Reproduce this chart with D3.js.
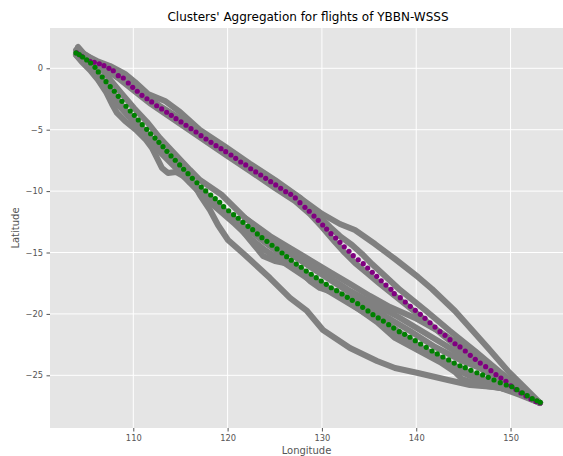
<!DOCTYPE html>
<html lang="en">

<head>
    <meta charset="UTF-8">
    <title>Clusters' Aggregation</title>
    <script src="https://cdn.jsdelivr.net/npm/d3@7/dist/d3.min.js"></script>
    <style>
        * {
            margin: 0;
        }

        body {
            background: #fff;
        }

        text {
            font-family: "DejaVu Sans", sans-serif;
        }
    </style>
</head>

<body>
    <svg id="chart" width="563" height="456"></svg>
    <script>
        // tick labels
        var xTicks = [110, 120, 130, 140, 150];
        var yTicks = [0, -5, -10, -15, -20, -25];

        // flight tracks (lon / lat)
        var trackALon = [103.93, 105.41, 106.89, 108.38, 109.97, 111.88, 114.53, 117.18, 119.83, 122.37, 125.02, 127.14, 128.73, 130.01, 131.38, 132.44, 133.50, 134.78, 136.16, 137.75, 140.40, 143.05, 145.70, 148.35, 150.47, 153.12];
        var trackALat = [1.25, 0.43, 0.02, -0.79, -1.77, -2.91, -4.29, -5.68, -7.06, -8.36, -9.75, -10.81, -11.86, -12.92, -14.14, -15.04, -15.85, -16.67, -17.56, -18.54, -20.17, -21.88, -23.51, -25.06, -26.11, -27.25];

        var trackBLon = [104.14, 104.88, 106.15, 107.53, 109.12, 110.18, 111.56, 113.36, 114.95, 117.07, 119.72, 122.37, 125.02, 127.67, 129.58, 130.85, 131.91, 133.19, 134.25, 135.31, 136.69, 138.28, 140.93, 143.58, 146.23, 148.88, 151.00, 153.12];
        var trackBLat = [1.73, 1.08, 0.59, 0.19, -0.46, -1.12, -2.09, -2.66, -3.56, -5.02, -6.37, -7.77, -9.10, -10.54, -11.95, -12.92, -13.66, -14.39, -15.12, -15.94, -16.91, -18.05, -19.68, -21.39, -23.02, -24.73, -26.03, -27.25];

        var trackCLon = [104.03, 105.41, 107.53, 109.12, 110.71, 112.83, 116.01, 119.19, 122.37, 125.55, 127.67, 130.01, 131.91, 133.50, 135.63, 137.75, 140.18, 141.67, 144.11, 145.91, 147.61, 149.73, 151.53, 153.12];
        var trackCLat = [1.49, 0.68, 0.02, -0.87, -1.93, -3.07, -4.62, -6.25, -7.87, -9.50, -10.56, -11.86, -12.68, -13.17, -14.31, -15.53, -16.99, -17.97, -19.76, -21.31, -22.78, -24.65, -26.03, -27.25];

        var trackDLon = [103.93, 104.88, 105.94, 106.79, 107.53, 108.38, 109.33, 110.50, 111.77, 113.15, 114.42, 115.80, 117.07, 118.66, 120.25, 122.37, 124.49, 126.61, 128.73, 130.85, 132.97, 135.09, 137.75, 140.40, 143.05, 145.70, 148.35, 151.00, 153.12];
        var trackDLat = [1.16, 0.68, -0.14, -1.03, -1.69, -2.58, -3.56, -4.45, -5.59, -6.65, -7.79, -8.85, -9.83, -10.89, -11.95, -13.25, -14.47, -15.77, -16.91, -17.97, -18.79, -19.84, -21.23, -22.69, -23.83, -24.81, -25.71, -26.52, -27.25];

        var trackELon = [103.93, 104.56, 105.41, 106.26, 107.11, 107.74, 108.27, 109.12, 110.29, 111.35, 111.98, 112.51, 113.04, 113.68, 114.53, 115.27, 116.54, 118.13, 119.72, 121.31, 122.90, 123.75, 125.02, 126.08, 127.67, 128.73, 129.79, 131.17, 133.29, 135.84, 137.75, 140.50, 142.52, 144.11, 144.85, 146.76, 148.88, 151.00, 153.12];
        var trackELat = [1.08, 0.51, -0.14, -0.95, -1.93, -2.91, -3.64, -4.29, -5.02, -5.84, -6.49, -7.30, -8.12, -8.53, -8.44, -8.77, -9.58, -10.56, -11.78, -13.00, -14.47, -15.28, -15.69, -15.85, -16.51, -17.32, -17.89, -18.22, -19.27, -20.66, -21.96, -23.10, -23.92, -24.73, -25.30, -25.79, -26.03, -26.44, -27.25];

        var trackFLon = [103.93, 104.99, 106.05, 106.89, 107.74, 108.80, 110.07, 111.45, 112.83, 114.42, 116.01, 117.07, 119.40, 121.84, 124.28, 126.61, 128.95, 131.38, 134.03, 136.69, 139.34, 141.99, 144.64, 147.82, 150.47, 153.12];
        var trackFLat = [1.49, 1.08, 0.51, -0.30, -1.12, -2.09, -3.23, -4.37, -5.68, -6.98, -8.28, -9.10, -10.32, -12.19, -13.66, -15.04, -16.26, -17.48, -18.79, -20.17, -21.39, -22.69, -23.75, -24.73, -25.87, -27.25];

        var trackHLon = [121.84, 124.49, 126.61, 128.73, 130.85, 132.97, 135.09, 137.22, 139.87, 142.52, 145.17, 147.82, 150.47, 153.12];
        var trackHLat = [-12.19, -13.66, -14.63, -15.61, -16.59, -17.56, -18.54, -19.44, -20.33, -21.47, -22.78, -24.24, -25.79, -27.25];

        var trackILon = [103.93, 105.20, 106.26, 107.11, 107.95, 108.80, 109.86, 111.24, 112.83, 114.42, 116.01, 117.60, 119.19, 120.78, 122.37, 123.96, 125.55, 127.14, 128.73, 130.85, 132.97, 135.09, 137.75, 140.40, 143.05, 145.70, 148.35, 151.00, 153.12];
        var trackILat = [1.08, 0.19, -0.87, -1.77, -2.58, -3.31, -4.21, -5.43, -6.82, -8.04, -9.34, -10.56, -11.62, -12.68, -13.82, -14.80, -15.61, -16.42, -17.24, -18.22, -19.19, -20.17, -21.55, -22.94, -24.08, -25.06, -25.87, -26.60, -27.25];

        var trackJLon = [122.37, 124.49, 126.61, 128.73, 130.85, 132.97, 135.09, 137.75, 140.40, 143.05, 145.70, 148.35, 151.00, 153.12];
        var trackJLat = [-12.84, -13.98, -15.12, -16.10, -17.08, -18.13, -19.03, -20.09, -21.31, -22.53, -23.83, -25.22, -26.36, -27.25];

        var trackGLon = [114.42, 116.01, 117.07, 118.13, 118.98, 120.04, 121.84, 124.49, 126.61, 128.42, 130.11, 132.97, 135.84, 137.75, 140.18, 143.36, 145.70, 148.35, 151.00, 153.12];
        var trackGLat = [-7.30, -8.85, -10.32, -11.54, -12.76, -13.98, -15.20, -17.08, -18.70, -19.76, -21.31, -22.78, -23.83, -24.40, -24.81, -25.38, -25.79, -25.95, -26.28, -27.25];

        // cluster 1 centre (purple)
        var purpleLon = [104.00, 104.53, 105.41, 105.87, 106.40, 106.89, 107.42, 107.88, 108.41, 108.94, 109.47, 109.94, 110.42, 110.92, 111.45, 111.95, 112.48, 113.01, 113.54, 114.03, 114.53, 115.06, 115.59, 116.12, 116.65, 117.18, 117.71, 118.24, 118.77, 119.30,
            119.80, 120.36, 120.86, 121.39, 121.92, 122.45, 122.98, 123.51, 124.04, 124.57, 125.10, 125.63, 126.16, 126.69, 127.18, 127.67, 128.20, 128.66, 129.16, 129.61, 130.08,
            130.50, 130.96, 131.46, 131.91, 132.37, 132.87, 133.32, 133.85, 134.38, 134.85, 135.34, 135.81, 136.29, 136.79, 137.32, 137.67,
            138.31, 138.84, 139.37, 139.90, 140.43, 140.93, 141.46, 141.99, 142.52, 143.05, 143.58, 144.11, 144.64, 145.20, 145.73, 146.26, 146.79, 147.36, 147.92, 148.45, 148.98, 149.51, 150.04,
            150.57, 151.10, 151.63, 152.16, 152.69, 153.12];
        var purpleLat = [1.25, 0.98, 0.57, 0.49, 0.37, 0.21, 0.00, -0.20, -0.60, -0.79, -1.20, -1.55, -1.87, -2.20, -2.48, -2.74, -3.05, -3.31, -3.58, -3.83, -4.10, -4.37, -4.64, -4.92, -5.19, -5.49, -5.76, -6.03, -6.30, -6.55,
            -6.79, -7.06, -7.33, -7.63, -7.87, -8.18, -8.44, -8.69, -8.96, -9.23, -9.50, -9.77, -10.05, -10.26, -10.56, -10.94, -11.32, -11.64, -12.03, -12.38, -12.76,
            -13.09, -13.47, -13.82, -14.17, -14.53, -14.90, -15.26, -15.59, -15.91, -16.26, -16.61, -16.94, -17.30, -17.65, -18.00, -18.35,
            -18.68, -19.03, -19.38, -19.71, -20.03, -20.36, -20.72, -21.07, -21.45, -21.74, -22.10, -22.43, -22.69, -23.02, -23.37, -23.70, -24.00, -24.30, -24.62, -24.95, -25.22, -25.49, -25.85,
            -26.16, -26.44, -26.68, -26.93, -27.13, -27.25];

        // cluster 2 centre (green)
        var greenLon = [103.93, 104.27, 104.64, 105.06, 105.48, 105.94, 106.29, 106.71, 107.11, 107.56, 107.99, 108.41, 108.80, 109.23, 109.68, 110.11, 110.53, 110.95, 111.42, 111.84, 112.30, 112.72, 113.15, 113.57, 114.00, 114.45, 114.92, 115.34, 115.80, 116.26, 116.75, 117.21, 117.68, 118.21, 118.69, 119.16, 119.58,
            120.11, 120.64, 121.13, 121.63, 122.16,
            122.66, 123.15, 123.64, 124.17, 124.71, 125.24, 125.77, 126.26, 126.75, 127.28, 127.81, 128.34, 128.87, 129.40, 129.93, 130.46, 130.99, 131.56, 132.13, 132.69, 133.22, 133.79, 134.32, 134.88, 135.41, 135.97, 136.51, 137.08, 137.61,
            138.20, 138.77, 139.34, 139.90, 140.47, 141.06, 141.67, 142.23, 142.83, 143.44, 144.03, 144.64, 145.20, 145.80, 146.44, 147.04, 147.64, 148.24, 148.91, 149.55, 150.15, 150.68, 151.24, 151.77, 152.30, 152.80, 153.15];
        var greenLat = [1.25, 1.11, 0.92, 0.68, 0.43, 0.08, -0.30, -0.71, -1.09, -1.50, -1.87, -2.28, -2.69, -3.09, -3.48, -3.83, -4.21, -4.59, -4.97, -5.33, -5.68, -6.03, -6.38, -6.76, -7.14, -7.49, -7.87, -8.22, -8.58, -8.96, -9.32, -9.67, -9.99, -10.32, -10.62, -10.91, -11.27,
            -11.60, -11.92, -12.21, -12.54, -12.87,
            -13.14, -13.49, -13.79, -14.09, -14.41, -14.71, -15.04, -15.34, -15.63, -15.94, -16.20, -16.51, -16.77, -17.05, -17.32, -17.59, -17.87, -18.11, -18.38, -18.65, -18.89, -19.17, -19.46, -19.76, -20.06, -20.33, -20.58, -20.88, -21.15,
            -21.45, -21.66, -21.90, -22.18, -22.45, -22.72, -23.02, -23.26, -23.51, -23.75, -24.00, -24.22, -24.38, -24.59, -24.79, -24.97, -25.16, -25.38, -25.60, -25.79, -25.93, -26.17, -26.42, -26.66, -26.90, -27.07, -27.20];

        var tracks = [
            [trackALon, trackALat],
            [trackBLon, trackBLat],
            [trackCLon, trackCLat],
            [trackDLon, trackDLat],
            [trackELon, trackELat],
            [trackFLon, trackFLat],
            [trackHLon, trackHLat],
            [trackILon, trackILat],
            [trackJLon, trackJLat],
            [trackGLon, trackGLat]
        ];

        var margin = { left: 50, right: 563, top: 28, bottom: 428 };
        var svg = d3.select("#chart");

        var x = d3.scaleLinear().domain([101.17, 155.56]).range([margin.left, margin.right]);
        var y = d3.scaleLinear().domain([-29.29, 3.28]).range([margin.bottom, margin.top]);

        // background
        svg.append("rect")
            .attr("x", margin.left)
            .attr("y", margin.top)
            .attr("width", margin.right - margin.left)
            .attr("height", margin.bottom - margin.top)
            .attr("fill", "#e5e5e5");

        // grid
        svg.append("g").selectAll("line").data(xTicks).enter().append("line")
            .attr("x1", d => x(d)).attr("x2", d => x(d))
            .attr("y1", margin.top).attr("y2", margin.bottom)
            .attr("stroke", "#fff").attr("stroke-width", 1);
        svg.append("g").selectAll("line").data(yTicks).enter().append("line")
            .attr("y1", d => y(d)).attr("y2", d => y(d))
            .attr("x1", margin.left).attr("x2", margin.right)
            .attr("stroke", "#fff").attr("stroke-width", 1);

        // axes
        var fmt = d => d < 0 ? "\u2212" + Math.abs(d) : String(d);
        var xAxis = svg.append("g")
            .attr("transform", "translate(0," + margin.bottom + ")")
            .call(d3.axisBottom(x).tickValues(xTicks).tickFormat(fmt).tickSize(3.5).tickPadding(3.5));
        var yAxis = svg.append("g")
            .attr("transform", "translate(" + margin.left + ",0)")
            .call(d3.axisLeft(y).tickValues(yTicks).tickFormat(fmt).tickSize(3.5).tickPadding(3.5));
        [xAxis, yAxis].forEach(function (a) {
            a.select(".domain").remove();
            a.selectAll(".tick line").attr("stroke", "#555");
            a.selectAll(".tick text")
                .attr("fill", "#555")
                .style("font-size", "8.3px")
                .style("font-family", "DejaVu Sans");
        });

        // flight tracks
        svg.append("clipPath").attr("id", "clip").append("rect")
            .attr("x", margin.left).attr("y", margin.top)
            .attr("width", margin.right - margin.left)
            .attr("height", margin.bottom - margin.top);

        var plot = svg.append("g").attr("clip-path", "url(#clip)");

        var line = d3.line()
            .x(d => x(d[0]))
            .y(d => y(d[1]));

        tracks.forEach(function (t) {
            var pts = t[0].map((lon, i) => [lon, t[1][i]]);
            plot.append("path")
                .attr("d", line(pts))
                .attr("fill", "none")
                .attr("stroke", "#808080")
                .attr("stroke-width", 6)
                .attr("stroke-linejoin", "round")
                .attr("stroke-linecap", "round");
        });

        // cluster centres
        function drawCentre(lons, lats, colour) {
            plot.append("g").selectAll("circle")
                .data(lons.map((lon, i) => [lon, lats[i]]))
                .enter()
                .append("circle")
                .attr("cx", d => x(d[0]))
                .attr("cy", d => y(d[1]))
                .attr("r", 2.6)
                .attr("fill", colour);
        }
        drawCentre(purpleLon, purpleLat, "#800080");
        drawCentre(greenLon, greenLat, "#008000");

        // labels
        svg.append("text")
            .attr("x", 308)
            .attr("y", 21)
            .attr("text-anchor", "middle")
            .style("font-size", "12px")
            .attr("fill", "#000")
            .text("Clusters' Aggregation for flights of YBBN-WSSS");

        svg.append("text")
            .attr("x", 306.5)
            .attr("y", 454)
            .attr("text-anchor", "middle")
            .style("font-size", "10px")
            .attr("fill", "#555")
            .text("Longitude");

        svg.append("text")
            .attr("transform", "translate(19,228) rotate(-90)")
            .attr("text-anchor", "middle")
            .style("font-size", "10px")
            .attr("fill", "#555")
            .text("Latitude");
    </script>
</body>

</html>
